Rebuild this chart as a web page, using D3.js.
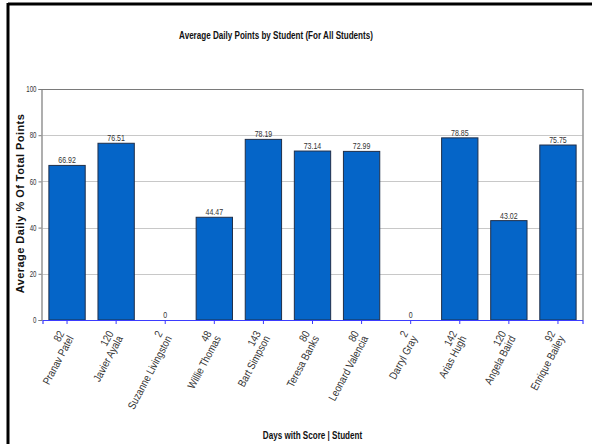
<!DOCTYPE html>
<html>
<head>
<meta charset="utf-8">
<script src="https://cdn.jsdelivr.net/npm/d3@7"></script>
<style>
  html, body { margin: 0; padding: 0; background: #fff; }
  svg { display: block; }
  text { font-family: "Liberation Sans", Arial, sans-serif; }
</style>
</head>
<body>
<svg id="chart" width="592" height="444"></svg>
<script>
const students = ["Pranav Patel", "Javier Ayala", "Suzanne Livingston", "Willie Thomas", "Bart Simpson",
  "Teresa Banks", "Leonard Valencia", "Darryl Gray", "Arias Hugh", "Angela Baird", "Enrique Bailey"];
const daysWithScore = [82, 120, 2, 48, 143, 80, 80, 2, 142, 120, 92];
const avgPercent = [66.92, 76.51, 0, 44.47, 78.19, 73.14, 72.99, 0, 78.85, 43.02, 75.75];
const yTicks = [0, 20, 40, 60, 80, 100];
const valueLabels = ["66.92", "76.51", "0", "44.47", "78.19", "73.14", "72.99", "0", "78.85", "43.02", "75.75"];

const svg = d3.select("#chart");
const W = 592, H = 444;
const plot = { left: 42.5, right: 582.5, top: 89, bottom: 320 };
const NARROW = 0.81; // emulate Arial Narrow by horizontal compression

// outer frame (top and left thick lines)
svg.append("line").attr("x1", 8).attr("x2", W).attr("y1", 4).attr("y2", 4)
  .attr("stroke", "#000").attr("stroke-width", 3);
svg.append("line").attr("x1", 8).attr("x2", 8).attr("y1", 3).attr("y2", H)
  .attr("stroke", "#000").attr("stroke-width", 3);

const x = d3.scaleBand().domain(d3.range(students.length))
  .range([plot.left, plot.right]).paddingInner(0.26).paddingOuter(0.13);
const y = d3.scaleLinear().domain([0, 100]).range([plot.bottom, plot.top]);

// gridlines
svg.append("g").selectAll("line").data(yTicks.filter(t => t > 0 && t < 100)).join("line")
  .attr("x1", plot.left).attr("x2", plot.right)
  .attr("y1", d => Math.round(y(d)) + 0.5).attr("y2", d => Math.round(y(d)) + 0.5)
  .attr("stroke", "#c8c8c8").attr("stroke-width", 1);

// frame top/right
svg.append("path")
  .attr("d", `M${plot.left - 1},${plot.top + 0.5}H${plot.right + 0.5}V${plot.bottom}`)
  .attr("fill", "none").attr("stroke", "#7a7a7a").attr("stroke-width", 1.2);

// y axis
const yAxis = d3.axisLeft(y).tickValues(yTicks).tickSize(3).tickPadding(2).tickFormat(d3.format("d"));
const gy = svg.append("g").attr("transform", `translate(${plot.left - 1},0)`).call(yAxis);
gy.select(".domain").attr("stroke", "#7a7a7a").attr("stroke-width", 1.2);
gy.selectAll(".tick line").attr("stroke", "#7a7a7a");
gy.selectAll(".tick text")
  .attr("font-size", 8.5).attr("fill", "#333")
  .attr("font-family", "Liberation Sans, Arial, sans-serif")
  .attr("transform", function () {
    const tx = +d3.select(this).attr("x");
    return `translate(${tx},0) scale(0.72,1)`;
  })
  .attr("x", 0);

// bars
svg.append("g").selectAll("rect").data(avgPercent).join("rect")
  .attr("x", (d, i) => x(i))
  .attr("width", x.bandwidth())
  .attr("y", d => y(d))
  .attr("height", d => y(0) - y(d))
  .attr("fill", "#0565c8")
  .attr("stroke", "#1f2f4a")
  .attr("stroke-width", 1)
  .attr("display", d => d > 0 ? null : "none");

// value labels
svg.append("g").selectAll("text").data(avgPercent).join("text")
  .attr("transform", (d, i) => `translate(${x(i) + x.bandwidth() / 2},${y(d) - 2}) scale(0.78,1)`)
  .attr("text-anchor", "middle")
  .attr("font-size", 9)
  .attr("fill", "#333")
  .text((d, i) => valueLabels[i]);

// x axis (blue baseline with ticks)
const xAxis = d3.axisBottom(x).tickSize(4).tickFormat("");
const gx = svg.append("g").attr("transform", `translate(0,${plot.bottom})`).call(xAxis);
gx.select(".domain").attr("stroke", "#3b3bff").attr("stroke-width", 1.2);
gx.selectAll(".tick line").attr("stroke", "#3b3bff");

// x tick labels (two lines rotated)
const lbl = svg.append("g").selectAll("g").data(students).join("g")
  .attr("transform", (d, i) => `translate(${x(i) + x.bandwidth() / 2 - 1},334) rotate(-62) scale(0.85,1)`);
lbl.append("text").attr("text-anchor", "end")
  .attr("y", -1.5).attr("font-size", 11).attr("fill", "#333")
  .text((d, i) => daysWithScore[i]);
lbl.append("text").attr("text-anchor", "end")
  .attr("y", 9).attr("font-size", 11).attr("fill", "#333")
  .text(d => d);

// titles
svg.append("text")
  .attr("transform", `translate(276,39) scale(${NARROW},1)`).attr("text-anchor", "middle")
  .attr("font-size", 10).attr("font-weight", "bold").attr("fill", "#111")
  .text("Average Daily Points by Student (For All Students)");

svg.append("text")
  .attr("transform", `translate(${(plot.left + plot.right) / 2},439) scale(${NARROW},1)`).attr("text-anchor", "middle")
  .attr("font-size", 10).attr("font-weight", "bold").attr("fill", "#111")
  .text("Days with Score | Student");

svg.append("text")
  .attr("transform", `translate(24,${(plot.top + plot.bottom) / 2 - 1}) rotate(-90)`)
  .attr("text-anchor", "middle")
  .attr("font-size", 11).attr("font-weight", "bold").attr("fill", "#111")
  .attr("letter-spacing", 0.45)
  .text("Average Daily % Of Total Points");
</script>
</body>
</html>
